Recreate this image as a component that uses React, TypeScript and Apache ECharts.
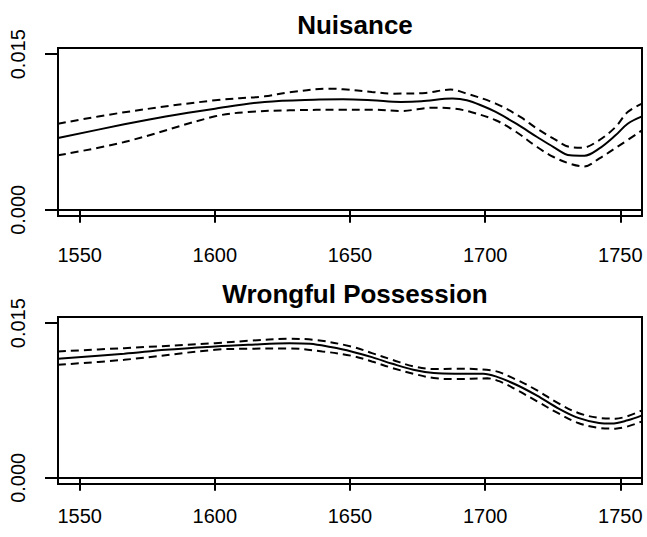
import React, { useEffect, useRef } from "react";
import * as echarts from "echarts";

// Nuisance (top panel)
const nuisYears = [1542, 1566.5, 1581.8, 1600.1, 1618.4, 1636.7, 1647.4, 1658.1, 1668.8, 1676.4, 1687.9, 1693.2, 1699.3, 1703.9, 1711.5, 1719.2, 1725.3, 1731.4, 1736.7, 1742.1, 1748.2, 1752.7, 1758];
const nuisFit = [0.00692, 0.00824, 0.0090, 0.00975, 0.0104, 0.01062, 0.01065, 0.01056, 0.0104, 0.01046, 0.01072, 0.01056, 0.00998, 0.00943, 0.0083, 0.00702, 0.00605, 0.00525, 0.00521, 0.00589, 0.00718, 0.0083, 0.00901];
const nuisUpperYears = [1542, 1566.5, 1600.1, 1618.4, 1627.6, 1642.8, 1647.4, 1658.1, 1665.7, 1677.9, 1687.1, 1693.2, 1703.9, 1713.0, 1719.2, 1725.3, 1731.4, 1736.0, 1742.1, 1748.2, 1752.7, 1758];
const nuisUpper = [0.0083, 0.0094, 0.01056, 0.01094, 0.01133, 0.01168, 0.01162, 0.01136, 0.0112, 0.01127, 0.01159, 0.0112, 0.01024, 0.00895, 0.00782, 0.00686, 0.00605, 0.00599, 0.0067, 0.00798, 0.00943, 0.01024];
const nuisLowerYears = [1542, 1566.5, 1600.1, 1612.3, 1627.6, 1647.4, 1658.1, 1668.8, 1681.0, 1688.6, 1694.7, 1703.9, 1711.5, 1719.2, 1725.3, 1731.4, 1736.7, 1742.1, 1749.7, 1758];
const nuisLower = [0.00525, 0.00653, 0.00901, 0.00943, 0.00959, 0.00965, 0.00965, 0.00953, 0.00985, 0.00975, 0.00943, 0.00863, 0.0075, 0.00605, 0.00509, 0.00444, 0.00418, 0.00493, 0.00621, 0.00766];

// Wrongful Possession (bottom panel)
const wrongYears = [1542, 1566.5, 1581.8, 1600.1, 1612.3, 1627.6, 1635.2, 1642.8, 1650.5, 1658.1, 1665.7, 1673.4, 1681.0, 1688.6, 1699.3, 1703.9, 1711.5, 1719.2, 1726.8, 1734.4, 1742.1, 1746.7, 1752.7, 1758];
const wrongFit = [0.01155, 0.01203, 0.01242, 0.01274, 0.0129, 0.01306, 0.013, 0.01268, 0.01226, 0.01171, 0.01106, 0.01048, 0.01016, 0.0101, 0.0101, 0.00984, 0.00903, 0.00797, 0.00677, 0.00581, 0.00532, 0.00526, 0.00558, 0.00606];
const wrongUpperYears = [1542, 1566.5, 1600.1, 1612.3, 1627.6, 1636.7, 1650.5, 1658.1, 1665.7, 1673.4, 1681.0, 1688.6, 1702.4, 1711.5, 1719.2, 1726.8, 1734.4, 1742.1, 1748.2, 1758];
const wrongUpper = [0.01226, 0.01258, 0.01306, 0.01329, 0.01348, 0.01339, 0.01274, 0.0121, 0.01145, 0.01081, 0.01055, 0.01058, 0.01042, 0.00952, 0.00848, 0.00726, 0.00629, 0.00581, 0.00574, 0.00655];
const wrongLowerYears = [1542, 1566.5, 1600.1, 1612.3, 1627.6, 1639.8, 1650.5, 1658.1, 1665.7, 1673.4, 1681.0, 1688.6, 1700.8, 1705.4, 1711.5, 1719.2, 1726.8, 1734.4, 1742.1, 1748.2, 1758];
const wrongLower = [0.01097, 0.01145, 0.01242, 0.01252, 0.01255, 0.01226, 0.01184, 0.01129, 0.01065, 0.0101, 0.00968, 0.00958, 0.00965, 0.00935, 0.00855, 0.00742, 0.00629, 0.00532, 0.00484, 0.00477, 0.00548];

const xTicks = [1550, 1600, 1650, 1700, 1750];
const yTicks = [0, 0.015];
const titles = ["Nuisance", "Wrongful Possession"];

const FONT = "'Liberation Sans', Arial, Helvetica, sans-serif";

const zip = (xs: number[], ys: number[]) => xs.map((x, i) => [x, ys[i]]);

export default function App() {
  const ref = useRef<HTMLDivElement>(null);
  useEffect(() => {
    if (!ref.current) return;
    const chart = echarts.init(ref.current, null, { renderer: "svg" });
    const grids = [
      { left: 58, top: 48, width: 584, height: 168 },
      { left: 58, top: 317, width: 584, height: 167 },
    ];
    const xMargins = [29, 22];
    const xAxis = grids.map((_, i) => ({
      type: "value",
      gridIndex: i,
      min: 1542,
      max: 1758,
      axisLine: { show: true, lineStyle: { color: "#000", width: 2 } },
      axisTick: { show: true, customValues: xTicks, length: 13, inside: false, lineStyle: { color: "#000", width: 2 } },
      axisLabel: {
        show: true,
        customValues: xTicks,
        color: "#000",
        fontSize: 20,
        fontFamily: FONT,
        margin: xMargins[i],
        formatter: (v: number) => String(v),
      },
      splitLine: { show: false },
    }));
    const yAxis = grids.map((_, i) => ({
      type: "value",
      gridIndex: i,
      min: -0.0006,
      max: 0.0156,
      axisLine: { show: true, lineStyle: { color: "#000", width: 2 } },
      axisTick: { show: true, customValues: yTicks, length: 13, inside: false, lineStyle: { color: "#000", width: 2 } },
      axisLabel: {
        show: true,
        customValues: yTicks,
        rotate: 90,
        color: "#000",
        fontSize: 20,
        fontFamily: FONT,
        margin: 30,
        formatter: (v: number) => v.toFixed(3),
      },
      splitLine: { show: false },
    }));
    const line = (name: string, idx: number, data: number[][], dashed: boolean) => ({
      name,
      type: "line",
      xAxisIndex: idx,
      yAxisIndex: idx,
      data,
      smooth: 0.35,
      symbol: "none",
      clip: true,
      lineStyle: { color: "#000", width: 2, type: dashed ? [8, 5] : "solid" },
    });
    chart.setOption({
      animation: false,
      backgroundColor: "#fff",
      title: titles.map((t, i) => ({
        text: t,
        left: 350,
        top: i === 0 ? 7 : 276,
        textAlign: "center",
        textStyle: { fontSize: 26, fontWeight: "bold", color: "#000", fontFamily: FONT },
      })),
      grid: grids.map((g) => ({ ...g, show: true, borderColor: "#000", borderWidth: 2, backgroundColor: "transparent" })),
      xAxis,
      yAxis,
      series: [
        line("Nuisance fit", 0, zip(nuisYears, nuisFit), false),
        line("Nuisance upper", 0, zip(nuisUpperYears, nuisUpper), true),
        line("Nuisance lower", 0, zip(nuisLowerYears, nuisLower), true),
        line("Wrongful Possession fit", 1, zip(wrongYears, wrongFit), false),
        line("Wrongful Possession upper", 1, zip(wrongUpperYears, wrongUpper), true),
        line("Wrongful Possession lower", 1, zip(wrongLowerYears, wrongLower), true),
      ],
    });
    return () => chart.dispose();
  }, []);
  return <div ref={ref} style={{ position: "fixed", left: 0, top: 0, width: 647, height: 537 }} />;
}
